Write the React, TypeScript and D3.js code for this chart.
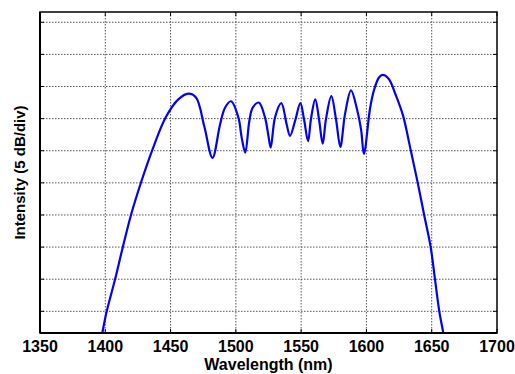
import React from "react";
import * as d3 from "d3";

const xTicks = [1350, 1400, 1450, 1500, 1550, 1600, 1650, 1700];
const yTicks = [0, 5, 10, 15, 20, 25, 30, 35, 40, 45];

const wavelength = [
  1396.0, 1397.7, 1401.1, 1407.4, 1413.3, 1419.7, 1427.1, 1436.0, 1446.3, 1455.9,
  1463.6, 1469.5, 1475.8, 1482.1, 1487.9, 1491.7, 1496.3, 1501.9, 1504.5, 1507.2,
  1510.3, 1512.9, 1517.6, 1522.3, 1524.8, 1526.7, 1530.0, 1534.8, 1538.9, 1541.5,
  1545.3, 1549.4, 1552.2, 1555.3, 1557.5, 1560.8, 1563.7, 1566.5, 1569.0, 1573.1,
  1576.7, 1580.0, 1583.6, 1588.2, 1592.8, 1595.9, 1598.1, 1602.7, 1605.6, 1609.6,
  1612.5, 1617.0, 1622.6, 1628.0, 1633.9, 1639.3, 1644.1, 1649.2, 1652.5, 1655.8,
  1658.9, 1661.0,
];
const intensity = [
  -5.2, -3.4, 0.0, 4.9, 9.9, 15.0, 19.9, 25.1, 30.2, 33.0,
  33.9, 33.3, 28.8, 23.9, 29.1, 31.7, 32.7, 30.2, 27.0, 24.7,
  29.6, 31.7, 32.5, 30.2, 27.5, 25.5, 30.2, 32.4, 29.1, 27.3,
  29.6, 32.4, 29.9, 26.5, 29.9, 33.0, 29.9, 26.1, 29.9, 33.5,
  29.9, 25.6, 30.7, 34.4, 31.45, 28.3, 24.5, 31.5, 34.3, 36.4,
  36.8, 36.2, 33.6, 30.5, 25.1, 20.0, 15.1, 10.0, 5.0, 0.0,
  -3.4, -6.0,
];

const W = 515;
const H = 374;
const left = 40;
const right = 497;
const top = 12;
const bottom = 333;

export default function App() {
  const x = d3.scaleLinear().domain([1350, 1700]).range([left, right]);
  const y = d3
    .scaleLinear()
    .domain([-3.375, 46.6])
    .range([bottom, top]);

  const data = wavelength.map((w, i) => [w, intensity[i]] as [number, number]);
  const line = d3
    .line<[number, number]>()
    .x((d) => x(d[0]))
    .y((d) => y(d[1]))
    .curve(d3.curveCatmullRom.alpha(0.5));

  const font = "'Liberation Sans', Arial, sans-serif";
  const tickLen = 4;

  return (
    <svg
      width={W}
      height={H}
      style={{ position: "absolute", left: 0, top: 0, background: "#fff" }}
    >
      <defs>
        <clipPath id="plot">
          <rect x={left} y={top} width={right - left} height={bottom - top} />
        </clipPath>
      </defs>
      {/* grid */}
      <g stroke="#555" strokeWidth={1} strokeDasharray="1.5,1.5">
        {xTicks.slice(1, -1).map((t) => (
          <line key={"gx" + t} x1={x(t)} x2={x(t)} y1={top} y2={bottom} />
        ))}
        {yTicks.map((t) => (
          <line key={"gy" + t} x1={left} x2={right} y1={y(t)} y2={y(t)} />
        ))}
      </g>
      {/* ticks */}
      <g stroke="#000" strokeWidth={1}>
        {xTicks.map((t) => (
          <g key={"tx" + t}>
            <line x1={x(t)} x2={x(t)} y1={bottom} y2={bottom - tickLen} />
            <line x1={x(t)} x2={x(t)} y1={top} y2={top + tickLen} />
          </g>
        ))}
        {yTicks.map((t) => (
          <g key={"ty" + t}>
            <line x1={left} x2={left + tickLen} y1={y(t)} y2={y(t)} />
            <line x1={right} x2={right - tickLen} y1={y(t)} y2={y(t)} />
          </g>
        ))}
      </g>
      {/* curve */}
      <path
        d={line(data) || ""}
        fill="none"
        stroke="#0000ff"
        strokeWidth={2.2}
        clipPath="url(#plot)"
      />
      {/* frame */}
      <rect
        x={left}
        y={top}
        width={right - left}
        height={bottom - top}
        fill="none"
        stroke="#000"
        strokeWidth={1.5}
      />
      <line x1={left} x2={right} y1={bottom} y2={bottom} stroke="#000" strokeWidth={2} />
      <line x1={left} x2={left} y1={top} y2={bottom} stroke="#000" strokeWidth={2} />
      {/* tick labels */}
      <g fontFamily={font} fontWeight="bold" fontSize={16} fill="#000" textAnchor="middle">
        {xTicks.map((t) => (
          <text key={"lx" + t} x={x(t)} y={352}>
            {t}
          </text>
        ))}
      </g>
      <text
        x={(left + right) / 2}
        y={370}
        fontFamily={font}
        fontWeight="bold"
        fontSize={16}
        textAnchor="middle"
      >
        Wavelength (nm)
      </text>
      <text
        transform={`translate(25,${(top + bottom) / 2}) rotate(-90)`}
        fontFamily={font}
        fontWeight="bold"
        fontSize={15}
        textAnchor="middle"
      >
        Intensity (5 dB/div)
      </text>
    </svg>
  );
}
